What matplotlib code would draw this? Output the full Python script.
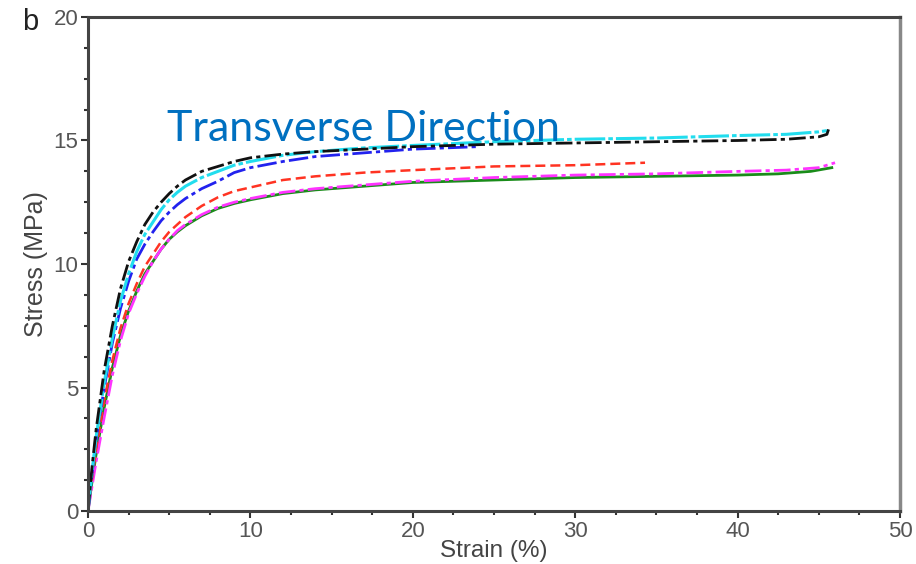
import numpy as np
import matplotlib
matplotlib.use("Agg")
import matplotlib.pyplot as plt

# Data (strain %, stress MPa)
black_x = [0, 0.25, 0.5, 1, 1.5, 2, 2.5, 3, 3.5, 4, 4.5, 5, 5.5, 6, 7, 8, 9, 10, 12, 14, 17, 20, 25, 30, 35, 40, 43, 45, 45.5, 45.6]
black_y = [0, 1.8, 3.3, 5.7, 7.5, 9.0, 10.1, 10.9, 11.6, 12.1, 12.5, 12.85, 13.15, 13.4, 13.75, 13.95, 14.15, 14.3, 14.45, 14.55, 14.65, 14.75, 14.85, 14.9, 14.95, 15.0, 15.05, 15.15, 15.25, 15.45]
cyan_x = [0, 0.25, 0.5, 1, 1.5, 2, 2.5, 3, 3.5, 4, 4.5, 5, 5.5, 6, 7, 8, 9, 10, 12, 14, 17, 20, 25, 30, 35, 40, 43, 45, 45.5]
cyan_y = [0, 1.6, 3.0, 5.2, 7.0, 8.5, 9.6, 10.5, 11.2, 11.7, 12.2, 12.6, 12.9, 13.15, 13.5, 13.75, 14.0, 14.15, 14.4, 14.55, 14.7, 14.8, 14.95, 15.05, 15.1, 15.2, 15.25, 15.35, 15.4]
blue_x = [0, 0.25, 0.5, 1, 1.5, 2, 2.5, 3, 3.5, 4, 4.5, 5, 5.5, 6, 7, 8, 9, 10, 12, 14, 17, 20, 24]
blue_y = [0, 1.5, 2.9, 5.0, 6.8, 8.2, 9.3, 10.2, 10.8, 11.3, 11.75, 12.1, 12.4, 12.65, 13.05, 13.35, 13.7, 13.9, 14.15, 14.35, 14.5, 14.65, 14.75]
red_x = [0, 0.25, 0.5, 1, 1.5, 2, 2.5, 3, 3.5, 4, 4.5, 5, 5.5, 6, 7, 8, 9, 10, 12, 14, 17, 20, 25, 30, 34.3]
red_y = [0, 1.3, 2.5, 4.5, 6.1, 7.4, 8.4, 9.2, 9.9, 10.4, 10.9, 11.3, 11.6, 11.9, 12.35, 12.7, 12.95, 13.1, 13.4, 13.55, 13.7, 13.8, 13.95, 14.0, 14.1]
mag_x = [0, 0.25, 0.5, 1, 1.5, 2, 2.5, 3, 3.5, 4, 4.5, 5, 5.5, 6, 7, 8, 9, 10, 12, 14, 17, 20, 25, 30, 35, 40, 43, 45, 46]
mag_y = [0, 1.0, 2.0, 3.8, 5.5, 6.9, 8.0, 8.8, 9.5, 10.1, 10.6, 11.0, 11.35, 11.6, 12.0, 12.3, 12.5, 12.65, 12.9, 13.05, 13.2, 13.35, 13.5, 13.6, 13.65, 13.75, 13.8, 13.9, 14.1]
green_x = [0, 0.25, 0.5, 1, 1.5, 2, 2.5, 3, 3.5, 4, 4.5, 5, 5.5, 6, 7, 8, 9, 10, 12, 14, 17, 20, 25, 30, 35, 40, 42.5, 44.5, 45.8]
green_y = [0, 1.2, 2.3, 4.2, 5.8, 7.1, 8.1, 8.9, 9.6, 10.1, 10.6, 11.0, 11.3, 11.55, 11.95, 12.25, 12.45, 12.6, 12.85, 13.0, 13.15, 13.3, 13.4, 13.5, 13.55, 13.6, 13.65, 13.75, 13.9]

x_ticks = [0, 10, 20, 30, 40, 50]
y_ticks = [0, 5, 10, 15, 20]

fig = plt.figure(figsize=(9.16, 5.64), dpi=100)
ax = fig.add_axes([88/916, 1 - 511/564, (900 - 88)/916, (511 - 17)/564])

tickfont = ['Liberation Sans Narrow', 'Liberation Sans', 'DejaVu Sans']
gray = '#555555'

ax.plot(green_x, green_y, color='#1a8c1a', lw=2.0, ls='-')
ax.plot(mag_x, mag_y, color='#ff33ff', lw=2.0, ls=(0, (6, 1.5, 1.5, 1.5)))
ax.plot(red_x, red_y, color='#ff3322', lw=1.8, ls=(0, (4, 2)))
ax.plot(blue_x, blue_y, color='#2222ee', lw=2.0, ls=(0, (7, 1.5, 1.5, 1.5)))
ax.plot(cyan_x, cyan_y, color='#22ddee', lw=2.2, ls=(0, (10, 1, 1.5, 1)))
ax.plot(black_x, black_y, color='#111111', lw=2.0, ls=(0, (6, 1.5, 1.5, 1.5)))

ax.set_xlim(0, 50)
ax.set_ylim(0, 20)
ax.set_xticks(x_ticks)
ax.set_yticks(y_ticks)
ax.set_xticks(np.arange(0, 50.1, 2.5), minor=True)
ax.set_yticks(np.arange(0, 20.1, 1.25), minor=True)
ax.tick_params(which='major', direction='out', length=5, width=1.5, color='#333333',
               labelsize=16, labelcolor=gray, pad=2)
ax.tick_params(which='minor', direction='out', length=3, width=1.5, color='#333333')
for lab in ax.get_xticklabels() + ax.get_yticklabels():
    lab.set_family(tickfont)

for s in ['left', 'bottom', 'top']:
    ax.spines[s].set_color('#444444')
    ax.spines[s].set_linewidth(2.2)
ax.spines['right'].set_color('#888888')
ax.spines['right'].set_linewidth(2.5)

ax.set_xlabel('Strain (%)', fontsize=17.5, color='#444444', family=tickfont, labelpad=-1)
ax.set_ylabel('Stress (MPa)', fontsize=18, color='#444444', family=tickfont, labelpad=4)

ax.text(0.097, 0.749, 'Transverse Direction', transform=ax.transAxes,
        fontsize=31, color='#0070C0', family=['Lato', 'DejaVu Sans'], va='baseline')
fig.text(0.024, 1 - 30/564, 'b', fontsize=21, color='#222222',
         family=['Liberation Sans', 'DejaVu Sans'], va='baseline')

fig.savefig('out.png', dpi=100)
